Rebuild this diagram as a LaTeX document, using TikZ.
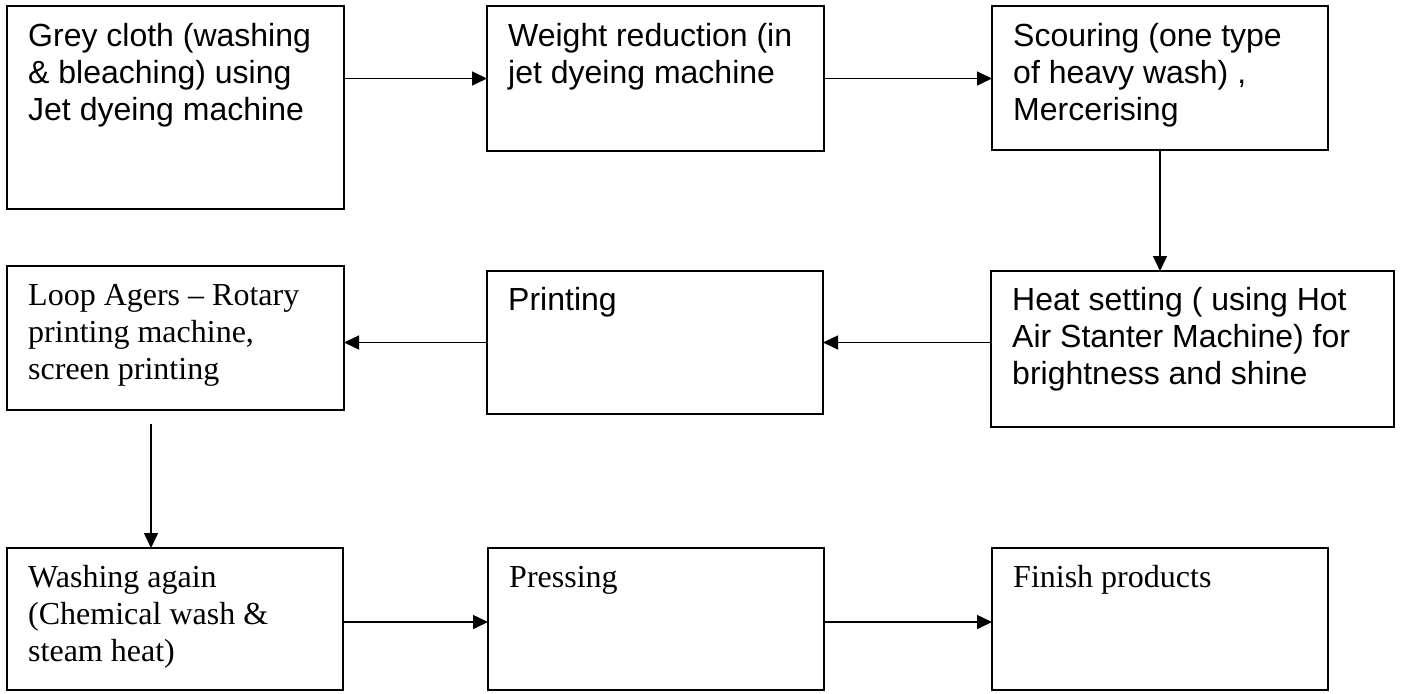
\documentclass[tikz,border=0pt]{standalone}
\usepackage{fontspec}
\setmainfont{Liberation Serif}
\newfontfamily\arialf{Liberation Sans}
\usetikzlibrary{arrows.meta,calc}
\begin{document}
\begin{tikzpicture}[x=1pt,y=-1pt,
  box/.style={draw=black,line width=1.5pt,rectangle,inner sep=0pt,outer sep=0pt},
  sanstxt/.style={anchor=base west,inner sep=0pt,font=\arialf\fontsize{32}{37}\selectfont},
  seriftxt/.style={anchor=base west,inner sep=0pt,font=\fontsize{32}{37}\selectfont},
  flow/.style={line width=1.5pt,-{Triangle[length=15pt,width=14pt]}}]
\useasboundingbox (0,0) rectangle (1404,693);
% boxes
\node[box,minimum width=337pt,minimum height=203pt] (b1) at (175.5,107.5) {};
\node[box,minimum width=337pt,minimum height=145pt] (b2) at (655.5,78.5) {};
\node[box,minimum width=336pt,minimum height=144pt] (b3) at (1160,78) {};
\node[box,minimum width=403pt,minimum height=156pt] (b4) at (1192.5,349) {};
\node[box,minimum width=336pt,minimum height=143pt] (b5) at (655,342.5) {};
\node[box,minimum width=337pt,minimum height=144pt] (b6) at (175.5,338) {};
\node[box,minimum width=336pt,minimum height=142pt] (b7) at (175,619) {};
\node[box,minimum width=336pt,minimum height=142pt] (b8) at (656,619) {};
\node[box,minimum width=336pt,minimum height=142pt] (b9) at (1160,619) {};
% texts
\node[sanstxt] (t1) at ($(b1.north west)+(21,40)$) {\parbox[t]{320pt}{\raggedright Grey cloth (washing\\ \& bleaching) using\\ Jet dyeing machine}};
\node[sanstxt] (t2) at ($(b2.north west)+(21,40)$) {\parbox[t]{320pt}{\raggedright Weight reduction (in\\ jet dyeing machine}};
\node[sanstxt] (t3) at ($(b3.north west)+(21,40)$) {\parbox[t]{320pt}{\raggedright Scouring (one type\\ of heavy wash) ,\\ Mercerising}};
\node[sanstxt] (t4) at ($(b4.north west)+(21,39)$) {\parbox[t]{380pt}{\raggedright Heat setting ( using Hot\\ Air Stanter Machine) for\\ brightness and shine}};
\node[sanstxt] (t5) at ($(b5.north west)+(21,39)$) {\parbox[t]{320pt}{\raggedright Printing}};
\node[seriftxt] (t6) at ($(b6.north west)+(21,39)$) {\parbox[t]{320pt}{\raggedright Loop Agers -- Rotary\\ printing machine,\\ screen printing}};
\node[seriftxt] (t7) at ($(b7.north west)+(21,39)$) {\parbox[t]{320pt}{\raggedright Washing again\\ (Chemical wash \&\\ steam heat)}};
\node[seriftxt] (t8) at ($(b8.north west)+(21,39)$) {\parbox[t]{320pt}{\raggedright Pressing}};
\node[seriftxt] (t9) at ($(b9.north west)+(21,39)$) {\parbox[t]{320pt}{\raggedright Finish products}};
% connectors
\draw[flow] (b1.east |- b2.west) -- (b2.west);
\draw[flow] (b2.east) -- (b2.east -| b3.west);
\draw[flow] (b3.south) -- (b3.south |- b4.north);
\draw[flow] (b4.west |- b5.east) -- (b5.east);
\draw[flow] (b5.west) -- (b5.west -| b6.east);
\coordinate (s6) at (151,424);
\draw[flow] (s6) -- (s6 |- b7.north);
\draw[flow] ([yshift=-3pt]b7.east) -- ([yshift=-3pt]b8.west);
\draw[flow] ([yshift=-3pt]b8.east) -- ([yshift=-3pt]b9.west);
\end{tikzpicture}
\end{document}
